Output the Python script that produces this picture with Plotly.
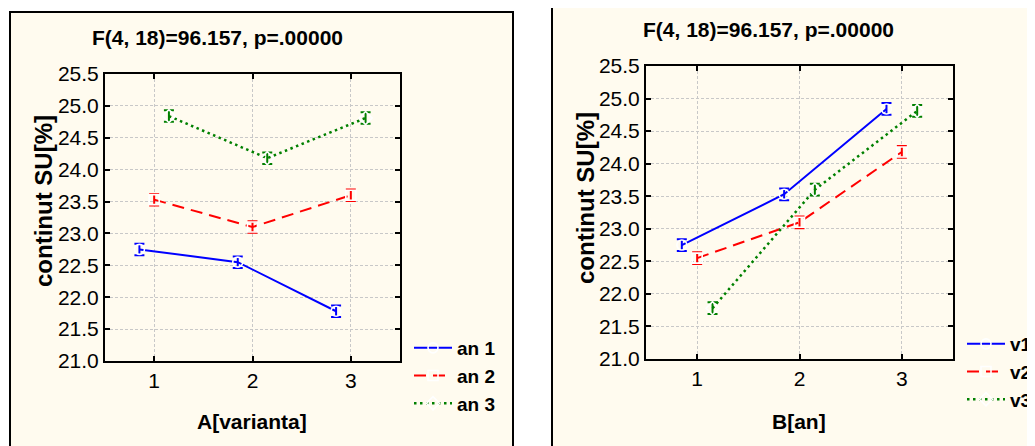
import plotly.graph_objects as go

# ---- data ----
levels = [1, 2, 3]
series_left = ["an 1", "an 2", "an 3"]       # years, plotted vs A[varianta]
series_right = ["v1", "v2", "v3"]            # variants, plotted vs B[an]
# mean "continut SU[%]" by year (rows) and variant (columns)
an1 = [22.75, 22.55, 21.78]
an2 = [23.53, 23.10, 23.60]
an3 = [24.84, 24.18, 24.81]
err = [0.09, 0.09, 0.09]
title_text = "F(4, 18)=96.157, p=.00000"
yticks = [21.0, 21.5, 22.0, 22.5, 23.0, 23.5, 24.0, 24.5, 25.0, 25.5]

years = [an1, an2, an3]
variants = [[row[i] for row in years] for i in range(3)]

W, H = 1035, 446
OFF = 8  # page body margin
FONT = "Liberation Sans, Arial, sans-serif"
CREAM = "#FFFBEF"
colors = ["#0000FF", "#FF0000", "#008000"]
dashes = ["solid", "12px,7px", "2.5px,3.5px"]
symbols = ["circle-open", "square-open", "diamond-open"]
DODGE = 0.15
offsets = [-DODGE, 0.0, DODGE]

def px(x):
    return (x - OFF) / W

def py(y):
    return 1 - (y - OFF) / H

fig = go.Figure()

def add_series(names, data, xa, ya, legend):
    for k, (name, vals) in enumerate(zip(names, data)):
        fig.add_trace(go.Scatter(
            x=[l + offsets[k] for l in levels], y=vals,
            name=name, mode="lines+markers",
            xaxis=xa, yaxis=ya, legend=legend,
            line=dict(color=colors[k], width=2 if k < 2 else 2.5, dash=dashes[k]),
            marker=dict(symbol=symbols[k], size=10, color="white",
                        line=dict(color=colors[k], width=1.6)),
            error_y=dict(type="data", array=err, color=colors[k],
                         thickness=2, width=5),
        ))

add_series(series_left, years, "x", "y", "legend")
add_series(series_right, variants, "x2", "y2", "legend2")

axis_common = dict(
    showline=True, linecolor="black", linewidth=2, mirror="ticks",
    ticks="inside", ticklen=5, tickwidth=1.5, tickcolor="black",
    showgrid=True, gridcolor="#C8C8C8", griddash="3px,2px", gridwidth=1,
    zeroline=False, automargin=False,
    tickfont=dict(family=FONT, size=21, color="black"),
)

legend_font = dict(family=FONT, size=19, color="black", weight="bold")

fig.update_layout(
    width=W, height=H, margin=dict(l=0, r=0, t=0, b=0, autoexpand=False),
    paper_bgcolor="white", plot_bgcolor="white", showlegend=True,
    xaxis=dict(domain=[px(105), px(400)], range=[0.5, 3.5], tickvals=levels,
               anchor="y", **axis_common),
    yaxis=dict(domain=[py(361), py(74)], range=[21.0, 25.5], tickvals=yticks,
               ticktext=[f"{v:.1f}" for v in yticks], anchor="x", **axis_common),
    xaxis2=dict(domain=[px(646), px(953)], range=[0.5, 3.5], tickvals=levels,
                anchor="y2", **axis_common),
    yaxis2=dict(domain=[py(359), py(66)], range=[21.0, 25.5], tickvals=yticks,
                ticktext=[f"{v:.1f}" for v in yticks], anchor="x2", **axis_common),
    legend=dict(x=px(409), y=py(329), xanchor="left", yanchor="top",
                bgcolor="rgba(0,0,0,0)", itemwidth=38, tracegroupgap=0,
                font=legend_font),
    legend2=dict(x=px(962), y=py(325), xanchor="left", yanchor="top",
                 bgcolor="rgba(0,0,0,0)", itemwidth=38, tracegroupgap=0,
                 font=legend_font),
)

# panel frames
fig.add_shape(type="rect", xref="paper", yref="paper", layer="below",
              x0=px(10), x1=px(513), y0=-0.05, y1=py(12),
              line=dict(color="black", width=2), fillcolor=CREAM)
fig.add_shape(type="rect", xref="paper", yref="paper", layer="below",
              x0=px(552), x1=1.05, y0=-0.05, y1=py(1.5),
              line=dict(color="black", width=2), fillcolor=CREAM)

def label(text, x, y, size, angle=0):
    fig.add_annotation(text=text, x=px(x), y=py(y), xref="paper", yref="paper",
                       xanchor="center", yanchor="middle",
                       showarrow=False, textangle=angle,
                       font=dict(family=FONT, size=size, color="black", weight="bold"))

label(title_text, 217, 38, 21)
label(title_text, 768, 29, 21)
label("A[varianta]", 252, 421, 21)
label("B[an]", 799, 421, 21)
label("continut SU[%]", 43, 201, 24, -90)
label("continut SU[%]", 585, 198, 24, -90)

fig.write_html("out.html")
